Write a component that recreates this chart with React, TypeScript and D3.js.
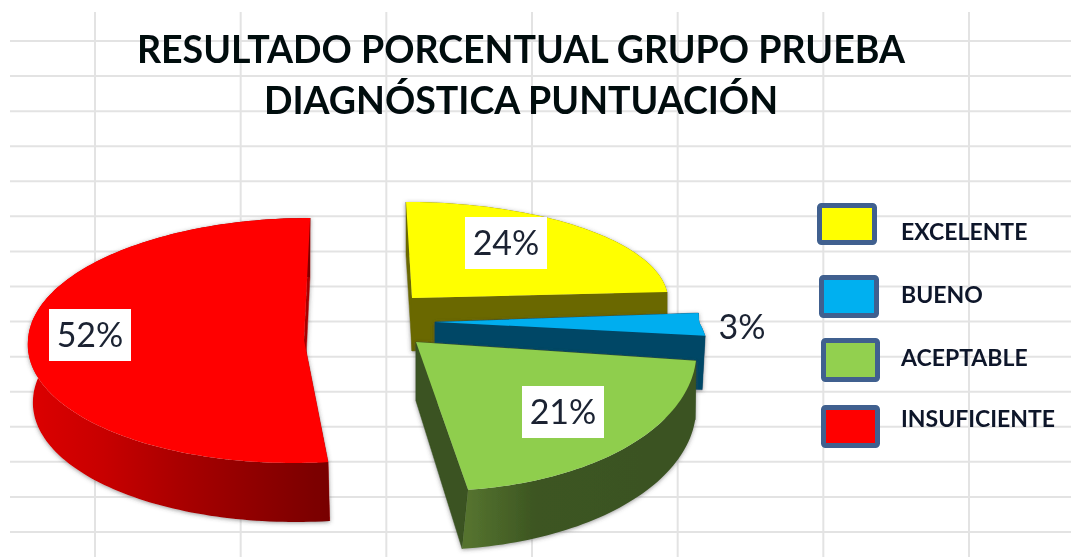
import React from "react";
import * as d3 from "d3";

const categories = ["EXCELENTE", "BUENO", "ACEPTABLE", "INSUFICIENTE"];
const percentages = [24, 3, 21, 52];
const titleLines = ["RESULTADO PORCENTUAL GRUPO PRUEBA", "DIAGNÓSTICA PUNTUACIÓN"];

const W = 1071;
const H = 557;

const topColors = ["#ffff00", "#00aeef", "#8fce4e", "#ff0000"];
const legendFills = ["#ffff00", "#00b0f0", "#92d050", "#ff0000"];
const sideColors = ["#6b6800", "#004766", "#3a5220", "#a80000"];

// 3D projection of each exploded slice
const geometry = [
  { cx: 412, cy: 298, rx: 256, ryUp: 96, ryDown: 96, kUp: 0.0625, kDown: 0, depth: 53, depthDx: 0, inset: 0 },
  { cx: 435, cy: 322, rx: 264, ryUp: 143, ryDown: 110, kUp: 0, kDown: 0.6, depth: 54, depthDx: -24, inset: 0 },
  { cx: 416, cy: 342, rx: 280, ryUp: 149, ryDown: 149, kUp: 0, kDown: 0.115, depth: 59, depthDx: -6, inset: 0 },
  { cx: 304, cy: 340, rx: 276, ryUp: 122, ryDown: 123, kUp: -0.05, kDown: -0.086, depth: 59, depthDx: 2, inset: 5 },
];
const wallStops: [number, string][][] = [
  [[0, "#6b6800"], [1, "#6b6800"]],
  [[0, "#004766"], [1, "#004766"]],
  [[0, "#55732f"], [0.3, "#3c5521"], [1, "#3a5220"]],
  [[0, "#dd0000"], [0.25, "#c80000"], [0.5, "#aa0000"], [0.75, "#900000"], [1, "#780000"]],
];
const labelCenters: [number, number, boolean][] = [
  [506, 243, true],
  [742, 327, false],
  [563, 412, true],
  [90, 335, true],
];
const legendBoxes = [
  { x: 819.5, y: 205.5, w: 55, h: 37 },
  { x: 821.5, y: 277.5, w: 55, h: 38 },
  { x: 823.5, y: 340.5, w: 54, h: 39 },
  { x: 823.5, y: 407.5, w: 54, h: 38 },
];
const legendBaselines = [240, 303, 366, 427];

const gridX = d3.scaleLinear().domain([0, 6]).range([95, 969]);
const gridY = d3.scaleLinear().domain([0, 14]).range([41, 532]);

const arcs = d3.pie<number>().sort(null)(percentages);
type Pt = [number, number];
type Geo = (typeof geometry)[number];

function project(g: Geo, a: number): Pt {
  const dy = -Math.cos(a);
  const y = dy < 0 ? dy * g.ryUp : dy * g.ryDown;
  const k = dy < 0 ? g.kUp : g.kDown;
  return [g.cx + Math.sin(a) * g.rx + k * y, g.cy + y];
}

const line = d3.line<Pt>();

function outerPts(i: number): Pt[] {
  const g = geometry[i];
  const { startAngle: a0, endAngle: a1 } = arcs[i];
  const n = Math.max(8, Math.round((a1 - a0) * 40));
  return d3.range(n + 1).map((j) => project(g, a0 + ((a1 - a0) * j) / n));
}

function topPath(i: number): string {
  const g = geometry[i];
  return line([[g.cx, g.cy], ...outerPts(i)]) + "Z";
}

function lowered(g: Geo, p: Pt): Pt {
  const f = Math.max(0, p[1] - g.cy) / g.ryDown;
  const side = (g.cx - p[0]) / g.rx;
  return [p[0] + g.depthDx * f + g.inset * side, p[1] + g.depth];
}

// the outer rim as one band, the two radial cuts as separate faces
function rimPath(i: number): string {
  const g = geometry[i];
  const pts = outerPts(i);
  return line([...pts, ...pts.slice().reverse().map((p) => lowered(g, p))]) + "Z";
}

function cutPaths(i: number): string[] {
  const g = geometry[i];
  const pts = outerPts(i);
  const c: Pt = [g.cx, g.cy];
  return [pts[0], pts[pts.length - 1]].map((p) => line([c, p, lowered(g, p), lowered(g, c)]) + "Z");
}

function wallExtent(i: number): [number, number] {
  const xs = outerPts(i).map((p) => p[0]);
  return [d3.min(xs) as number, d3.max(xs) as number];
}

const FONT = "Lato, Carlito, sans-serif";

export default function App() {
  return (
    <svg
      width={W}
      height={H}
      viewBox={`0 0 ${W} ${H}`}
      style={{ position: "absolute", left: 0, top: 0, background: "#fff" }}
    >
      <defs>
        <filter id="soft" x="-2%" y="-2%" width="104%" height="104%">
          <feGaussianBlur stdDeviation="0.55" />
        </filter>
        <filter id="wallShadow" x="-10%" y="-10%" width="120%" height="120%">
          <feDropShadow dx="0" dy="1" stdDeviation="2" floodColor="#444" floodOpacity="0.55" />
        </filter>
        {wallStops.map((stops, i) => {
          const [x1, x2] = wallExtent(i);
          return (
            <linearGradient key={i} id={`wall${i}`} gradientUnits="userSpaceOnUse" x1={x1} x2={x2} y1={0} y2={0}>
              {stops.map(([o, c]) => (
                <stop key={o} offset={o} stopColor={c} />
              ))}
            </linearGradient>
          );
        })}
      </defs>
      <rect width={W} height={H} fill="#fff" />
      <g filter="url(#soft)">
        <g stroke="#e3e3e3" strokeWidth={2}>
          {d3.range(7).map((i) => (
            <line key={i} x1={gridX(i)} x2={gridX(i)} y1={12} y2={H} />
          ))}
          {d3.range(15).map((i) => (
            <line key={i} x1={10} x2={W} y1={gridY(i)} y2={gridY(i)} />
          ))}
        </g>

        {titleLines.map((t, i) => (
          <text
            key={t}
            x={521}
            y={63 + i * 51}
            textAnchor="middle"
            fontFamily={FONT}
            fontWeight={700}
            fontSize={37.5}
            fill="#05080f"
          >
            {t}
          </text>
        ))}

        {arcs.map((_, i) => (
          <g key={i}>
            <g filter="url(#wallShadow)">
              {cutPaths(i).map((d, j) => (
                <path key={j} d={d} fill={sideColors[i]} stroke={sideColors[i]} strokeWidth={0.5} />
              ))}
              <path d={rimPath(i)} fill={`url(#wall${i})`} />
            </g>
            <path d={topPath(i)} fill={topColors[i]} />
          </g>
        ))}

        {percentages.map((v, i) => {
          const [x, y, boxed] = labelCenters[i];
          return (
            <g key={i}>
              {boxed && <rect x={x - 41} y={y - 26} width={82} height={52} fill="#fff" />}
              <text x={x} y={y + 12} textAnchor="middle" fontFamily={FONT} fontSize={34} fill="#1a2433">
                {v}%
              </text>
            </g>
          );
        })}

        {categories.map((c, i) => {
          const b = legendBoxes[i];
          return (
            <g key={c}>
              <rect
                x={b.x}
                y={b.y}
                width={b.w}
                height={b.h}
                rx={2}
                fill={legendFills[i]}
                stroke="#3f618f"
                strokeWidth={5}
              />
              <text
                x={901}
                y={legendBaselines[i]}
                fontFamily={FONT}
                fontWeight={700}
                fontSize={23}
                fill="#10162a"
              >
                {c}
              </text>
            </g>
          );
        })}
      </g>
    </svg>
  );
}
